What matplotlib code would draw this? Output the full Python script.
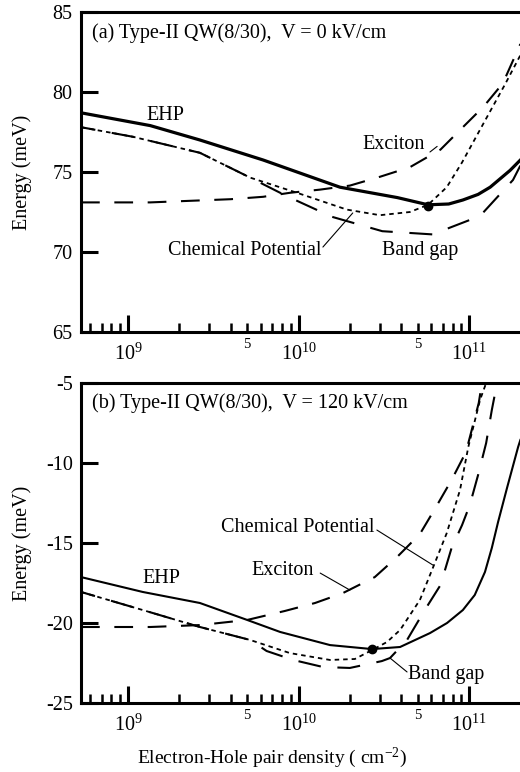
import math

import matplotlib
matplotlib.use("Agg")
import matplotlib.pyplot as plt
from matplotlib.ticker import FixedLocator, FuncFormatter, LogFormatterMathtext, NullLocator

plt.rcParams["font.family"] = "serif"
plt.rcParams["font.serif"] = ["Liberation Serif", "DejaVu Serif"]
plt.rcParams["mathtext.fontset"] = "custom"
plt.rcParams["mathtext.rm"] = "Liberation Serif"
plt.rcParams["mathtext.it"] = "Liberation Serif:italic"
plt.rcParams["axes.unicode_minus"] = False

# ---- panel (a): V = 0 kV/cm ----
A_EHP_N = [5.3e8, 1.35e9, 2.64e9, 6.2e9, 1.75e10, 3.8e10, 5.75e10, 7.6e10, 9.2e10, 1.13e11, 1.33e11, 1.74e11, 2.0e11]
A_EHP_E = [78.7, 77.9, 77.0, 75.75, 74.05, 73.4, 72.95, 73.0, 73.25, 73.6, 74.05, 75.1, 75.75]
A_EXC_N = [5.3e8, 1.35e9, 4.0e9, 6.2e9, 8.9e9, 1.34e10, 2.0e10, 3.0e10, 4.5e10, 6.8e10, 9.1e10, 1.22e11, 1.58e11, 2.0e11]
A_EXC_E = [73.1, 73.1, 73.3, 73.45, 73.7, 73.9, 74.15, 74.7, 75.3, 76.4, 77.75, 79.1, 80.55, 83.0]
A_CHEM_N = [5.3e8, 1.07e9, 2.64e9, 5.2e9, 9.8e9, 1.92e10, 3.0e10, 4.5e10, 5.75e10, 7.4e10, 9.1e10, 1.21e11, 1.63e11, 2.0e11]
A_CHEM_E = [77.8, 77.2, 76.2, 74.65, 73.7, 72.65, 72.3, 72.5, 72.95, 74.05, 75.6, 78.0, 80.5, 82.3]
A_GAP_N = [5.3e8, 1.07e9, 2.64e9, 5.2e9, 8.5e9, 1.57e10, 3.1e10, 6.1e10, 1.16e11, 1.81e11, 2.0e11]
A_GAP_E = [77.8, 77.2, 76.2, 74.65, 73.5, 72.2, 71.3, 71.1, 72.25, 74.5, 75.4]
A_DOT = (5.75e10, 72.9)

# ---- panel (b): V = 120 kV/cm ----
B_EHP_N = [5.3e8, 1.22e9, 2.64e9, 5.0e9, 7.8e9, 1.53e10, 2.7e10, 3.94e10, 5.9e10, 7.43e10, 9.2e10,
           1.08e11, 1.24e11, 1.36e11, 1.48e11, 1.67e11, 1.94e11, 2.0e11]
B_EHP_E = [-17.13, -18.06, -18.75, -19.81, -20.56, -21.38, -21.63, -21.5, -20.63, -20.0, -19.19,
           -18.25, -16.81, -15.31, -13.69, -11.56, -9.0, -8.56]
B_EXC_N = [5.3e8, 1.35e9, 2.64e9, 5.0e9, 8.3e9, 1.25e10, 1.82e10, 2.8e10, 3.78e10, 5.15e10, 6.4e10, 7.9e10, 9.6e10, 1.14e11, 1.19e11]
B_EXC_E = [-20.25, -20.25, -20.13, -19.81, -19.25, -18.75, -18.13, -17.13, -15.88, -14.44, -12.75, -11.06, -9.31, -6.25, -5.0]
B_CHEM_N = [5.3e8, 1.22e9, 2.64e9, 5.2e9, 8.9e9, 1.53e10, 2.14e10, 2.7e10, 3.3e10, 3.94e10, 5.15e10, 6.3e10, 7.4e10, 8.85e10, 9.9e10, 1.16e11, 1.26e11]
B_CHEM_E = [-18.06, -19.19, -20.25, -21.06, -21.88, -22.31, -22.25, -21.69, -21.19, -20.44, -18.56, -16.25, -14.38, -11.69, -9.0, -6.06, -5.0]
B_GAP_N = [5.3e8, 1.22e9, 2.64e9, 5.2e9, 6.5e9, 9.3e9, 1.39e10, 2.0e10, 3.08e10, 3.44e10, 4.33e10, 5.5e10, 6.8e10, 7.9e10, 9.1e10, 1.01e11, 1.13e11, 1.26e11, 1.36e11, 1.46e11]
B_GAP_E = [-18.06, -19.19, -20.25, -21.06, -21.75, -22.31, -22.75, -22.81, -22.38, -22.19, -21.06, -19.19, -17.63, -15.31, -13.88, -12.63, -10.75, -8.75, -6.69, -5.0]
B_DOT = (2.7e10, -21.6)

X_LIM = (5.3e8, 1.99e11)
A_YLIM = (65, 85)
B_YLIM = (-25, -5)
A_YTICKS = [65, 70, 75, 80, 85]
B_YTICKS = [-25, -20, -15, -10, -5]
MAJOR_X = [1e9, 1e10, 1e11]
MINOR_X = [m * 10.0 ** e for e in (8, 9, 10) for m in range(2, 10)]

FS = 14.5


def minor_label(value, pos):
    mant = value / 10 ** math.floor(math.log10(value))
    return "5" if abs(mant - 5) < 1e-6 else ""


def style_axes(ax, ylim, yticks):
    ax.set_xscale("log")
    ax.set_xlim(*X_LIM)
    ax.set_ylim(*ylim)
    ax.spines["right"].set_visible(False)
    for side in ("left", "top", "bottom"):
        ax.spines[side].set_linewidth(2.2)
    ax.xaxis.set_major_locator(FixedLocator(MAJOR_X))
    ax.xaxis.set_minor_locator(FixedLocator(MINOR_X))
    ax.xaxis.set_major_formatter(LogFormatterMathtext())
    ax.xaxis.set_minor_formatter(FuncFormatter(minor_label))
    ax.set_yticks(yticks)
    ax.yaxis.set_minor_locator(NullLocator())
    ax.tick_params(axis="x", which="major", direction="in", length=12, width=2.2,
                   labelsize=FS, pad=8, top=False)
    ax.tick_params(axis="x", which="minor", direction="in", length=6.5, width=1.8,
                   labelsize=10.5, pad=4, top=False)
    ax.tick_params(axis="y", which="major", direction="in", length=12, width=2.2,
                   labelsize=FS, pad=6, right=False)


def add_leader(ax, start, end):
    ax.annotate("", xy=end, xytext=start,
                arrowprops=dict(arrowstyle="-", color="black", lw=0.8,
                                shrinkA=0, shrinkB=0))


fig = plt.figure(figsize=(5.2, 7.72), dpi=100)
ax_a = fig.add_axes([81 / 520, 1 - 332 / 772, 439 / 520, 320 / 772])
ax_b = fig.add_axes([81 / 520, 1 - 703 / 772, 439 / 520, 320 / 772])

# panel (a)
ax_a.plot(A_EHP_N, A_EHP_E, color="black", lw=2.3, solid_joinstyle="round")
ax_a.plot(A_EXC_N, A_EXC_E, color="black", lw=1.5, linestyle=(0, (9, 7)))
ax_a.plot(A_CHEM_N, A_CHEM_E, color="black", lw=1.3, linestyle=(0, (2.5, 2.2)))
ax_a.plot(A_GAP_N, A_GAP_E, color="black", lw=1.5, linestyle=(4, (11, 8)))
ax_a.plot(*A_DOT, marker="o", color="black", ms=6)
style_axes(ax_a, A_YLIM, A_YTICKS)
ax_a.text(0.025, 0.934, "(a) Type-II QW(8/30),  V = 0 kV/cm", transform=ax_a.transAxes,
          fontsize=FS, ha="left", va="center")
ax_a.text(1.29e9, 78.56, "EHP", fontsize=FS, ha="left", va="center")
ax_a.text(2.36e10, 76.69, "Exciton", fontsize=FS, ha="left", va="center")
ax_a.text(1.37e10, 70.1, "Chemical Potential", fontsize=FS, ha="right", va="center")
ax_a.text(3.08e10, 70.1, "Band gap", fontsize=FS, ha="left", va="center")
add_leader(ax_a, (5.9e10, 76.25), (6.5e10, 76.6))
add_leader(ax_a, (1.39e10, 70.31), (2.08e10, 72.44))

# panel (b)
ax_b.plot(B_EHP_N, B_EHP_E, color="black", lw=1.5, solid_joinstyle="round")
ax_b.plot(B_EXC_N, B_EXC_E, color="black", lw=1.5, linestyle=(0, (9, 7)))
ax_b.plot(B_CHEM_N, B_CHEM_E, color="black", lw=1.3, linestyle=(0, (2.5, 2.2)))
ax_b.plot(B_GAP_N, B_GAP_E, color="black", lw=1.5, linestyle=(4, (11, 8)))
ax_b.plot(*B_DOT, marker="o", color="black", ms=6)
style_axes(ax_b, B_YLIM, B_YTICKS)
ax_b.text(0.025, 0.9375, "(b) Type-II QW(8/30),  V = 120 kV/cm", transform=ax_b.transAxes,
          fontsize=FS, ha="left", va="center")
ax_b.text(1.22e9, -17.19, "EHP", fontsize=FS, ha="left", va="center")
ax_b.text(5.33e9, -16.69, "Exciton", fontsize=FS, ha="left", va="center")
ax_b.text(2.8e10, -14.06, "Chemical Potential", fontsize=FS, ha="right", va="center")
ax_b.text(4.39e10, -23.25, "Band gap", fontsize=FS, ha="left", va="center")
add_leader(ax_b, (2.88e10, -14.19), (6.14e10, -16.38))
add_leader(ax_b, (1.34e10, -16.88), (2.0e10, -17.94))
add_leader(ax_b, (4.33e10, -23.06), (3.44e10, -22.19))

fig.text(22 / 520, 1 - 172 / 772, "Energy (meV)", rotation=90, fontsize=FS,
         ha="center", va="center")
fig.text(22 / 520, 1 - 543 / 772, "Energy (meV)", rotation=90, fontsize=FS,
         ha="center", va="center")
fig.text(272 / 520, 1 - 758 / 772, "Electron-Hole pair density ( cm$^{\\mathdefault{-2}}$)",
         fontsize=14, ha="center", va="center")

fig.savefig("out.png", dpi=100)
